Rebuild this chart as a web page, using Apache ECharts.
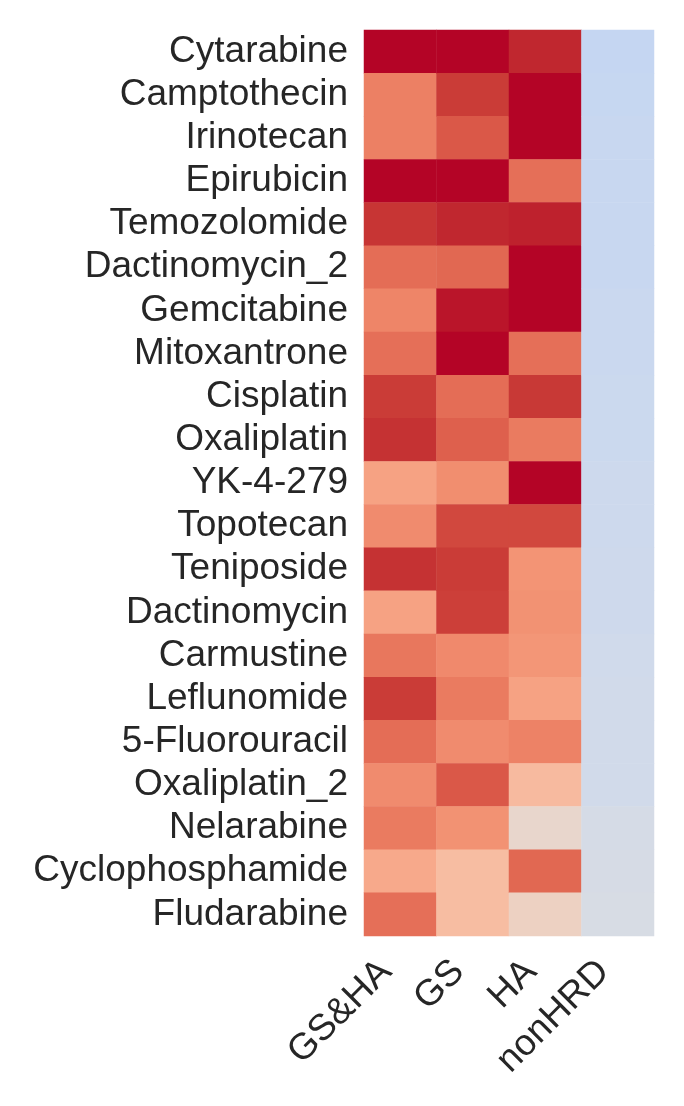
<!DOCTYPE html>
<html>
<head>
	<meta charset="utf-8">
	<title>drug heatmap</title>
	<style>
		html, body { margin: 0; padding: 0; background: #fff; }
	</style>
</head>
<body>
<script type="text/javascript" src="https://cdn.jsdelivr.net/npm/echarts@6/dist/echarts.min.js"></script>
<div id="container" style="width: 684px;height: 1106px;"></div>
<script type="text/javascript">
    // groups on x axis
    var groups = ['GS&HA', 'GS', 'HA', 'nonHRD'];
    // drugs, top to bottom
    var drugs = ['Cytarabine', 'Camptothecin', 'Irinotecan', 'Epirubicin', 'Temozolomide',
        'Dactinomycin_2', 'Gemcitabine', 'Mitoxantrone', 'Cisplatin', 'Oxaliplatin',
        'YK-4-279', 'Topotecan', 'Teniposide', 'Dactinomycin', 'Carmustine',
        'Leflunomide', '5-Fluorouracil', 'Oxaliplatin_2', 'Nelarabine',
        'Cyclophosphamide', 'Fludarabine'];
    // scaled scores (0..1) per group, one per drug
    var gsha = [1.0, 0.81, 0.81, 1.0, 0.95, 0.85, 0.80, 0.845, 0.94, 0.955,
        0.73, 0.785, 0.955, 0.73, 0.83, 0.94, 0.85, 0.785, 0.82, 0.71, 0.845];
    var gs = [1.0, 0.94, 0.89, 1.0, 0.97, 0.86, 0.985, 1.0, 0.85, 0.875,
        0.78, 0.92, 0.94, 0.935, 0.79, 0.82, 0.785, 0.89, 0.77, 0.65, 0.65];
    var ha = [0.97, 1.0, 1.0, 0.845, 0.975, 1.0, 1.0, 0.845, 0.945, 0.82,
        1.0, 0.92, 0.765, 0.77, 0.76, 0.73, 0.805, 0.66, 0.545, 0.86, 0.57];
    var nonhrd = [0.415, 0.42, 0.425, 0.425, 0.425, 0.425, 0.43, 0.43, 0.435, 0.435,
        0.44, 0.44, 0.445, 0.445, 0.45, 0.455, 0.455, 0.455, 0.47, 0.472, 0.477];

    // coolwarm colour map
    var coolwarm = ['#3b4cc0', '#445acc', '#4d68d7', '#5775e1', '#6282ea', '#6c8ef1',
        '#779af7', '#82a5fb', '#8db0fe', '#98b9ff', '#a3c2ff', '#aec9fd', '#b8d0f9',
        '#c2d5f4', '#ccd9ee', '#d5dbe6', '#dddddd', '#e5d8d1', '#ecd3c5', '#f1ccb8',
        '#f5c4ac', '#f7bba0', '#f7b194', '#f7a687', '#f49a7b', '#f18d6f', '#ec7f63',
        '#e57058', '#de604d', '#d55042', '#cb3e38', '#c0282f', '#b40426'];

    var cols = [gsha, gs, ha, nonhrd];
    var cells = [];
    for (var c = 0; c < cols.length; c++) {
        for (var r = 0; r < drugs.length; r++) {
            cells.push([c, r, cols[c][r]]);
        }
    }

    var myChart = echarts.init(document.getElementById('container'));
    var option = {
        backgroundColor: '#ffffff',
        animation: false,
        grid: { left: 364, right: 30, top: 30, bottom: 170 },
        xAxis: {
            type: 'category',
            data: groups,
            axisLine: { show: false },
            axisTick: { show: false },
            splitArea: { show: false },
            axisLabel: {
                rotate: 45,
                interval: 0,
                margin: 16,
                padding: [0, 20, 0, 0],
                color: '#262626',
                fontSize: 37,
                fontFamily: 'Liberation Sans, Arial, sans-serif'
            }
        },
        yAxis: {
            type: 'category',
            data: drugs,
            inverse: true,
            axisLine: { show: false },
            axisTick: { show: false },
            splitArea: { show: false },
            axisLabel: {
                interval: 0,
                margin: 16,
                color: '#262626',
                fontSize: 37,
                fontFamily: 'Liberation Sans, Arial, sans-serif'
            }
        },
        visualMap: {
            show: false,
            min: 0,
            max: 1,
            calculable: false,
            inRange: { color: coolwarm }
        },
        series: [{
            type: 'heatmap',
            data: cells,
            itemStyle: { borderWidth: 0 },
            emphasis: { disabled: true }
        }]
    };
    myChart.setOption(option);
</script>
</body>
</html>
